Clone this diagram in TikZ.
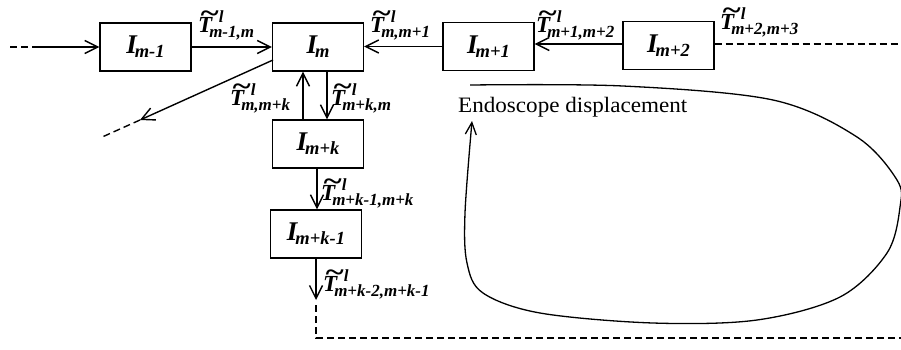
\documentclass[tikz,border=0pt]{standalone}
\usepackage{fontspec}
\setmainfont{Liberation Serif}
\newfontface\bif{Liberation Serif Bold Italic}
\usetikzlibrary{arrows.meta}
\newcommand{\TT}{\rlap{\hspace{1.5pt}\raisebox{9.5pt}{\scalebox{1.5}[1.2]{\char"7E}}}T}
\newcommand{\Tlab}[1]{{\bif\fontsize{23}{26}\selectfont\TT}{\bif\fontsize{17}{17}\selectfont\rlap{\raisebox{10pt}{\hspace{6.5pt}l}}\hspace{-3pt}\raisebox{-5pt}{#1}}}
\newcommand{\Ilab}[1]{{\bif\fontsize{27}{30}\selectfont I}{\bif\fontsize{18.5}{19}\selectfont\hspace{-2pt}\raisebox{-4pt}{#1}}}
\begin{document}
\begin{tikzpicture}[x=1pt,y=-1pt,
  box/.style={draw,line width=1.4pt,minimum width=91pt,minimum height=48pt,inner sep=0pt},
  conn/.style={line width=1.4pt},
  arr/.style={conn,-{Straight Barb[length=13pt,width=13pt,line width=1.4pt]}},
  dsh/.style={line width=1.4pt,dash pattern=on 7pt off 4pt},
  tl/.style={anchor=base west,inner sep=0pt}]
\useasboundingbox (0,0) rectangle (901,349);
% boxes
\node[box] (a) at (145.5,47) {\Ilab{m-1}};
\node[box] (b) at (318,47) {\Ilab{m}};
\node[box] (c) at (488.5,46.5) {\Ilab{m+1}};
\node[box] (d) at (668.5,45.5) {\Ilab{m+2}};
\node[box] (e) at (318,144) {\Ilab{m+k}};
\node[box] (f) at (316,234) {\Ilab{m+k-1}};
% coordinates
\coordinate (s0) at (10,47);
\coordinate (s1) at (37,47);
\coordinate (r0) at (901,44);
\coordinate (xu) at (303,0);
\coordinate (xd) at (327,0);
\coordinate (xf) at (317,0);
\coordinate (g0) at (273,60);
\coordinate (g1) at (140,120);
\coordinate (g2) at (100,138);
\coordinate (h1) at (316,300);
\coordinate (h2) at (316,305);
\coordinate (h3) at (316,338);
\coordinate (h4) at (901,338);
% connectors
\draw[dsh] (s0) -- (s1);
\draw[arr] (s1) -- (a.west);
\draw[arr] (a.east) -- (b.west);
\draw[arr] (c.west) -- (c.west -| b.east);
\draw[arr] (d.west |- 0,44) -- (c.east |- 0,44);
\draw[dsh] (d.east |- 0,44) -- (r0);
\draw[arr] (g0) -- (g1);
\draw[dsh] (g1) -- (g2);
\draw[arr] (e.north -| xu) -- (b.south -| xu);
\draw[arr] (b.south -| xd) -- (e.north -| xd);
\draw[arr] (e.south -| xf) -- (f.north -| xf);
\draw[arr] (f.south) -- (h1);
\draw[dsh] (h2) -- (h3) -- (h4);
% labels
\node[tl] (t1) at (198,32) {\Tlab{m-1,m}};
\node[tl] (t2) at (370,32) {\Tlab{m,m+1}};
\node[tl] (t3) at (536,32) {\Tlab{m+1,m+2}};
\node[tl] (t4) at (720,29) {\Tlab{m+2,m+3}};
\node[tl] (t5) at (230,105) {\Tlab{m,m+k}};
\node[tl] (t6) at (331,105) {\Tlab{m+k,m}};
\node[tl] (t7) at (321,200) {\Tlab{m+k-1,m+k}};
\node[tl] (t8) at (323,291) {\Tlab{m+k-2,m+k-1}};
% endoscope displacement
\node[anchor=base west,inner sep=0pt,font=\fontsize{22}{24}\selectfont] (en) at (458,112) {\scalebox{1.05}[1]{Endoscope displacement}};
\draw[line width=1.3pt,-{Straight Barb[length=12pt,width=11pt,line width=1.3pt]}]
  plot[smooth,tension=0.55] coordinates {(470,85) (623,86) (773,100) (857,137) (897,180) (900,207) (887,253) (840,297) (757,320) (653,323) (540,313) (483,293) (467,263) (465,213) (472,121)};
\end{tikzpicture}
\end{document}
